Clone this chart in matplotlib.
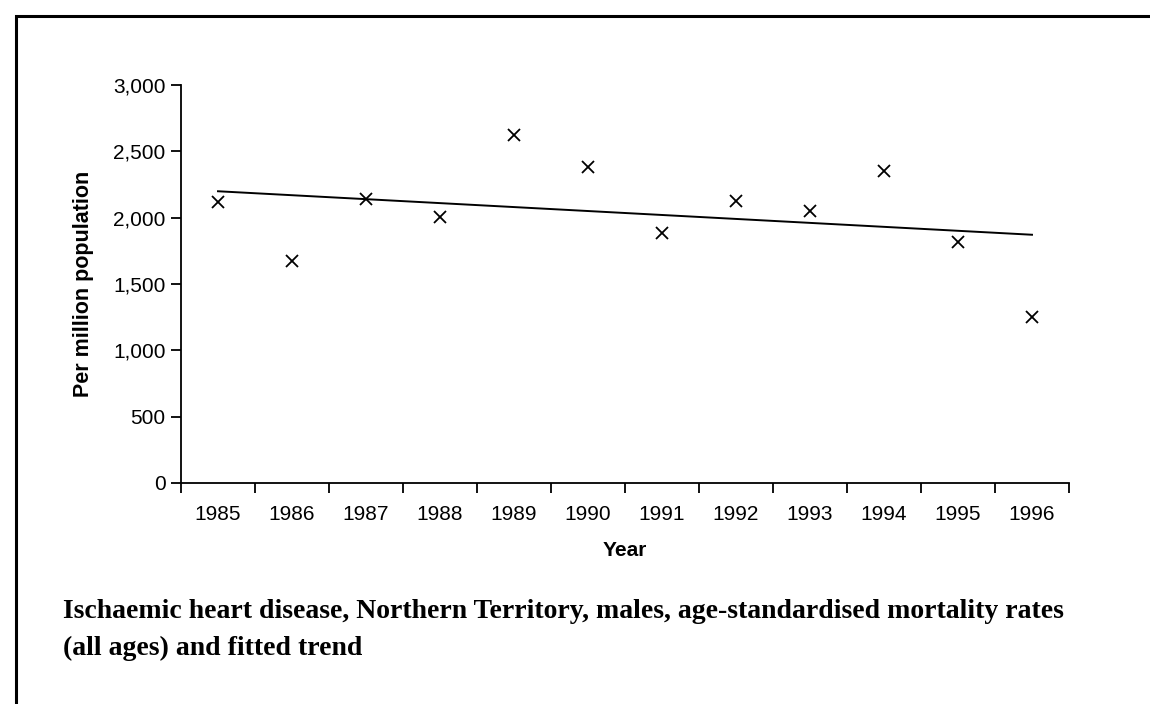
import matplotlib.pyplot as plt
import numpy as np
from matplotlib.lines import Line2D
from matplotlib.ticker import FuncFormatter, FixedLocator

years = ["1985", "1986", "1987", "1988", "1989", "1990",
         "1991", "1992", "1993", "1994", "1995", "1996"]
rates = [2121, 1674, 2139, 2003, 2623, 2380,
         1883, 2126, 2051, 2352, 1820, 1250]
caption_lines = [
    "Ischaemic heart disease, Northern Territory, males, age-standardised mortality rates",
    "(all ages) and fitted trend",
]

W, H = 1150, 704
fig = plt.figure(figsize=(W / 100, H / 100), dpi=100)
ax = fig.add_axes([181 / W, 1 - 483 / H, (1069 - 181) / W, (483 - 85) / H])

x = np.arange(len(years))
slope, intercept = np.polyfit(x, rates, 1)
trend = slope * x + intercept

ax.plot(x, rates, linestyle="none", marker="x", markersize=9,
        markeredgewidth=1.3, color="black", clip_on=False)
ax.plot(x, trend, color="black", linewidth=1.4)

ax.set_xlim(-0.5, len(years) - 0.5)
ax.set_ylim(0, 3000)
ax.set_yticks(np.arange(0, 3001, 500))
ax.yaxis.set_major_formatter(FuncFormatter(lambda v, _: f"{v:,.0f}"))

# ticks sit between categories, labels at category centres
ax.xaxis.set_major_locator(FixedLocator(np.arange(-0.5, len(years), 1.0)))
ax.xaxis.set_minor_locator(FixedLocator(x))
ax.set_xticklabels([], minor=False)
ax.set_xticklabels(years, minor=True)
ax.tick_params(axis="x", which="minor", length=0, pad=16, labelsize=15)
ax.tick_params(axis="x", which="major", length=7, width=1.3, direction="out")
ax.tick_params(axis="y", length=7, width=1.3, direction="out", pad=4,
               labelsize=15)

for side in ("top", "right"):
    ax.spines[side].set_visible(False)
for side in ("left", "bottom"):
    ax.spines[side].set_linewidth(1.3)

for lab in ax.get_xticklabels(minor=True) + ax.get_yticklabels():
    lab.set_fontfamily("Liberation Sans")

ax.set_xlabel("Year", fontsize=15, fontweight="bold",
              fontfamily="Liberation Sans", labelpad=12)
ax.set_ylabel("Per million population", fontsize=15.5, fontweight="bold",
              fontfamily="Liberation Sans", labelpad=14)

# frame lines along the top and left edge
fig.add_artist(Line2D([15.5 / W, 15.5 / W, 1.0], [0.0, 1 - 16 / H, 1 - 16 / H],
                      transform=fig.transFigure, color="black", linewidth=2.2,
                      solid_joinstyle="miter"))

for line, base in zip(caption_lines, [618, 655]):
    fig.text(63 / W, 1 - base / H, line, fontsize=20, fontweight="bold",
             fontfamily="Liberation Serif", va="baseline", ha="left")

fig.savefig("out.png", dpi=100)
